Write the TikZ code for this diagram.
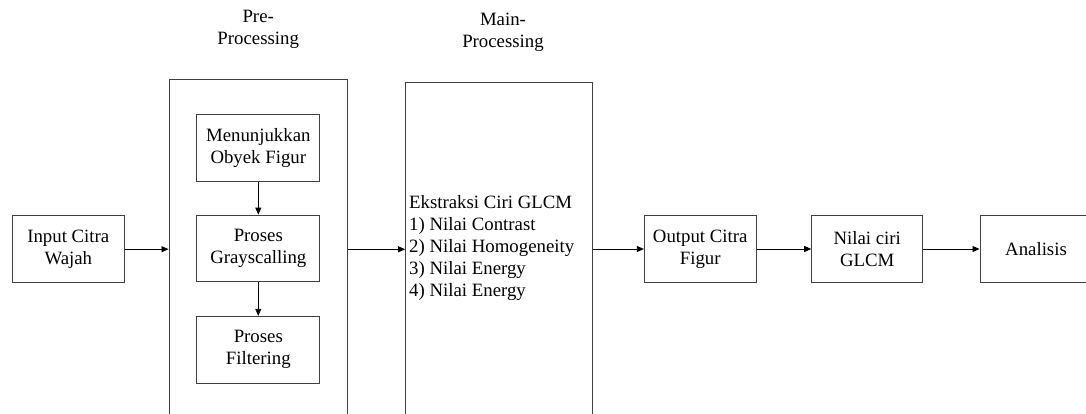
\documentclass[tikz,border=0pt]{standalone}
\usepackage{fontspec}
\setmainfont{Liberation Serif}
\usetikzlibrary{arrows.meta}
\begin{document}
\begin{tikzpicture}[x=1pt,y=-1pt,
	font=\fontsize{18.8}{22}\selectfont,
	blok/.style={draw=black!75, line width=1pt, align=center, inner sep=0pt},
	panah/.style={-{Triangle[length=7pt,width=6pt]}, line width=0.8pt}]
	\useasboundingbox (0,0) rectangle (1086,414);
	\clip (0,0) rectangle (1086,414);
	% tahap luar
	\node[blok, minimum width=112pt, minimum height=67pt] (input) at (68.3, 249.2) {Input Citra\\Wajah};
	\node[blok, minimum width=178.3pt, minimum height=339.2pt] (pre) at (258.2, 249.3) {};
	\node[blok, minimum width=187.3pt, minimum height=335.4pt] (main) at (499.3, 250) {};
	\node[blok, minimum width=111.7pt, minimum height=67pt] (output) at (700.2, 249) {Output Citra\\Figur};
	\node[blok, minimum width=111pt, minimum height=67pt] (nilai) at (867.2, 249) {Nilai ciri\\GLCM};
	\node[blok, minimum width=112pt, minimum height=67pt] (analisis) at (1036, 249) {Analisis};
	% judul
	\node[align=center] (judulpre) at (258.2, 29) {Pre-\\Processing};
	\node[align=center] (judulmain) at (503, 32.5) {Main-\\Processing};
	% isi pre-processing
	\node[blok, minimum width=122.7pt, minimum height=66.7pt] (obyek) at (258.3, 148.3) {Menunjukkan\\Obyek Figur};
	\node[blok, minimum width=122.7pt, minimum height=66.7pt] (gray) at (258.3, 248.5) {Proses\\Grayscalling};
	\node[blok, minimum width=122.7pt, minimum height=66.7pt] (filter) at (258.3, 349.7) {Proses\\Filtering};
	% isi main-processing
	\node[align=left, anchor=west, inner sep=0pt] (glcm) at (409, 248) {Ekstraksi Ciri GLCM\\1) Nilai Contrast\\2) Nilai Homogeneity\\3) Nilai Energy\\4) Nilai Energy};
	% panah
	\draw[panah] (input.east) -- (input.east -| pre.west);
	\draw[panah] (pre.east) -- (pre.east -| main.west);
	\draw[panah] (output.west -| main.east) -- (output.west);
	\draw[panah] (output) -- (nilai);
	\draw[panah] (nilai) -- (analisis);
	\draw[panah] (obyek) -- (gray);
	\draw[panah] (gray) -- (filter);
\end{tikzpicture}
\end{document}
